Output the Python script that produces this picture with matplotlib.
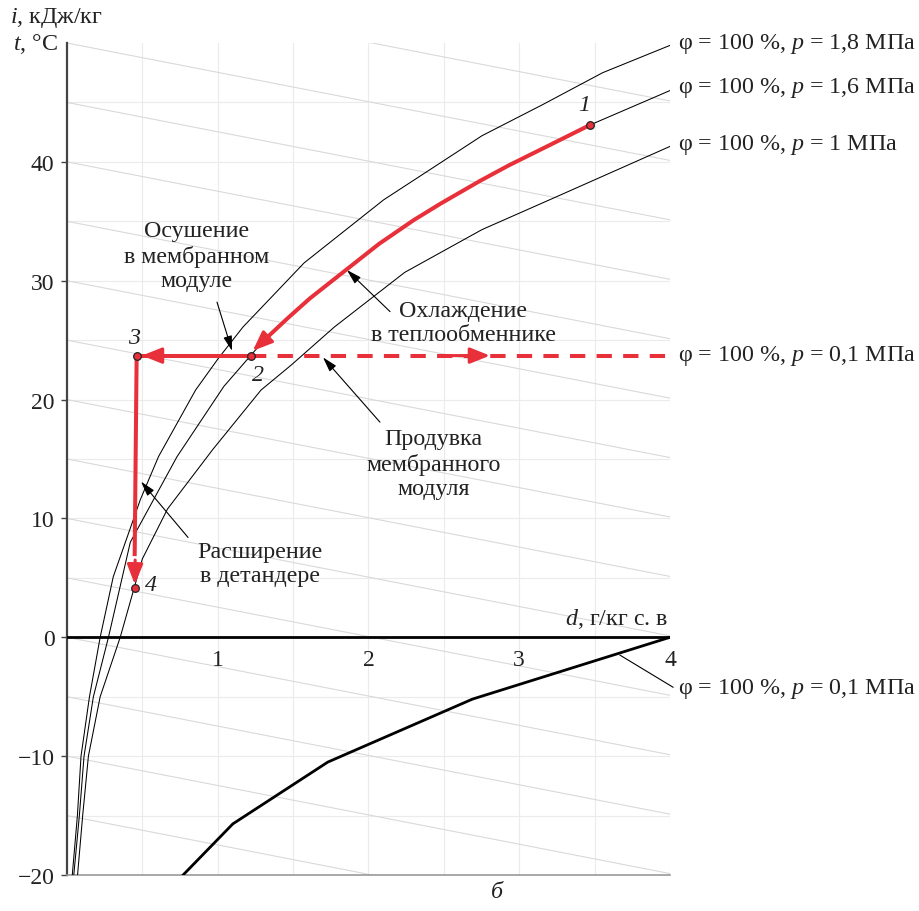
import matplotlib
matplotlib.use("Agg")
import matplotlib.pyplot as plt

plt.rcParams['font.family'] = ['Liberation Serif', 'DejaVu Serif']
plt.rcParams['mathtext.fontset'] = 'custom'
plt.rcParams['mathtext.rm'] = 'Liberation Serif'
plt.rcParams['mathtext.it'] = 'Liberation Serif:italic'

# ---------------- data ----------------
# saturation curves phi = 100 % : moisture content d (g/kg) vs temperature t (C)
sat18_d = [0.035, 0.069, 0.093, 0.149, 0.22, 0.307, 0.487, 0.607, 0.853, 1.0, 1.167,
           1.573, 2.1, 2.753, 3.153, 3.553, 4.0]
sat18_t = [-20, -15, -10, -5, 0, 5.1, 11.6, 15.2, 20.8, 23.4, 26.1,
           31.5, 36.8, 42.2, 44.8, 47.5, 49.8]
sat16_d = [0.045, 0.082, 0.113, 0.175, 0.275, 0.42, 0.73, 1.04, 1.218, 1.30, 1.46, 1.61,
           1.85, 2.07, 2.30, 2.48, 2.74, 2.93, 3.2, 3.469, 4.0]
sat16_t = [-20, -15, -10, -5, 0, 8.0, 15.2, 21.1, 23.7, 24.9, 26.8, 28.5,
           30.9, 33.1, 35.1, 36.5, 38.4, 39.7, 41.4, 43.1, 46.0]
sat10_d = [0.07, 0.104, 0.142, 0.22, 0.353, 0.5, 0.667, 0.967, 1.287, 1.487, 1.773,
           2.24, 2.753, 3.2, 4.0]
sat10_t = [-20, -15, -10, -5, 0, 6.6, 10.8, 15.8, 20.8, 22.9, 26.1,
           30.7, 34.3, 36.8, 41.3]
sat01_d = [0.77, 1.10, 1.73, 2.69, 4.0]
sat01_t = [-20, -15.7, -10.5, -5.2, 0]

# process 1 -> 2 (cooling in heat exchanger, along the 1.6 MPa curve)
proc12_d = [3.469, 3.2, 2.93, 2.74, 2.48, 2.30, 2.07, 1.85, 1.61, 1.46, 1.30]
proc12_t = [43.1, 41.4, 39.7, 38.4, 36.5, 35.1, 33.1, 30.9, 28.5, 26.8, 24.9]

# state points
point_labels = ['1', '2', '3', '4']
point_d = [3.469, 1.218, 0.462, 0.449]
point_t = [43.1, 23.7, 23.7, 4.12]

# enthalpy lines (kJ/kg) and their drop in t per 1 g/kg
enthalpy_levels = list(range(-20, 65, 5))
enthalpy_drop = 2.47

x_ticks = [1, 2, 3, 4]
y_ticks = [-20, -10, 0, 10, 20, 30, 40]
y_ticklabels = ['\u221220', '\u221210', '0', '10', '20', '30', '40']

RED = '#e8303b'
TXT = '#222222'
FS = 17.3

fig = plt.figure(figsize=(9.2, 9.12), dpi=100)
ax = fig.add_axes([67 / 920, 36 / 912, 603 / 920, 832 / 912])
ax.set_xlim(0, 4)
ax.set_ylim(-20, 50)

# grid
for gx in [0.5, 1, 1.5, 2, 2.5, 3, 3.5, 4]:
    ax.plot([gx, gx], [-20, 50], color='#ebebeb', lw=0.8, zorder=0)
for gy in [-15, -10, -5, 5, 10, 15, 20, 25, 30, 35, 40, 45]:
    ax.plot([0, 4], [gy, gy], color='#ebebeb', lw=0.8, zorder=0)

# enthalpy lines
for i in enthalpy_levels:
    ax.plot([0, 4], [i, i - 4 * enthalpy_drop], color='#d9d9d9', lw=0.8, zorder=1)

# axes styling
for s in ['top', 'right']:
    ax.spines[s].set_visible(False)
ax.spines['left'].set_color('#444444')
ax.spines['left'].set_linewidth(1.6)
ax.spines['bottom'].set_color('#999999')
ax.spines['bottom'].set_linewidth(1.2)
ax.set_xticks([])
ax.set_yticks(y_ticks)
ax.set_yticklabels(y_ticklabels, fontsize=17, color=TXT)
ax.tick_params(axis='y', length=4, width=1, color='#444444', pad=5)

# t = 0 axis
ax.plot([0, 4], [0, 0], color='black', lw=2.0, zorder=3)
for xt in x_ticks:
    ax.text(xt, -1.9, str(xt), ha='center', va='center', fontsize=17, color=TXT)

# saturation curves
ax.plot(sat18_d, sat18_t, color='black', lw=0.75, zorder=3)
ax.plot(sat16_d, sat16_t, color='black', lw=0.75, zorder=3)
ax.plot(sat10_d, sat10_t, color='black', lw=0.75, zorder=3)
ax.plot(sat01_d, sat01_t, color='black', lw=2.0, zorder=3, solid_joinstyle='round')

# right-side labels
lab_x = 4.055
for ty, txt in [(50.0, '\u03c6 = 100 %, $p$ = 1,8 МПа'),
                (46.3, '\u03c6 = 100 %, $p$ = 1,6 МПа'),
                (41.5, '\u03c6 = 100 %, $p$ = 1 МПа'),
                (23.75, '\u03c6 = 100 %, $p$ = 0,1 МПа'),
                (-4.25, '\u03c6 = 100 %, $p$ = 0,1 МПа')]:
    ax.text(lab_x, ty, txt, ha='left', va='center', fontsize=FS, color=TXT, clip_on=False)
ax.plot([3.668, 4.02], [-1.5, -4.2], color='black', lw=0.8, clip_on=False, zorder=3)

# axis titles
fig.text(10 / 920, 1 - 18 / 912, '$i$, кДж/кг', ha='left', va='center', fontsize=FS, color=TXT)
fig.text(58 / 920, 1 - 44 / 912, '$t$, °C', ha='right', va='center', fontsize=FS, color=TXT)
ax.text(3.985, 1.62, '$d$, г/кг с. в', ha='right', va='center', fontsize=FS, color=TXT)
fig.text(497 / 920, 1 - 893 / 912, 'б', ha='center', va='center', fontsize=FS,
         style='italic', color=TXT)

# ---------------- process lines ----------------
head = '-|>,head_length=0.6,head_width=0.24'
arrow_kw = dict(arrowstyle=head, mutation_scale=20, lw=2.2, color=RED, shrinkA=0, shrinkB=0)
# 1 -> 2
ax.plot(proc12_d, proc12_t, color=RED, lw=2.9, zorder=5, solid_capstyle='butt',
        solid_joinstyle='round')
ax.annotate('', xy=(1.232, 24.1), xytext=(proc12_d[-1], proc12_t[-1]),
            arrowprops=arrow_kw, zorder=5)
# 2 -> 3
ax.plot([point_d[2], point_d[1]], [point_t[2], point_t[1]], color=RED, lw=2.9, zorder=5)
ax.annotate('', xy=(0.497, point_t[2]), xytext=(0.62, point_t[2]),
            arrowprops=arrow_kw, zorder=5)
# 3 -> 4
ax.plot([point_d[2], point_d[3]], [point_t[2], 7.0], color=RED, lw=2.9, zorder=5)
ax.annotate('', xy=(0.4495, 4.45), xytext=(0.452, 6.5), arrowprops=arrow_kw, zorder=5)
# purge: dashed 2 -> right edge
ax.plot([point_d[1], 4.0], [point_t[1], point_t[1]], color=RED, lw=2.9, zorder=4,
        dashes=(3.8, 2.8))
ax.annotate('', xy=(2.806, point_t[1]), xytext=(2.47, point_t[1]),
            arrowprops=arrow_kw, zorder=5)

# state points
ax.plot(point_d, point_t, 'o', ms=5.5, mfc=RED, mec='#222222', mew=0.9, zorder=7)
lab_off = [(-0.04, 1.7), (0.05, -1.6), (-0.02, 1.5), (0.11, 0.35)]
for lab, dd, tt, (ox, oy) in zip(point_labels, point_d, point_t, lab_off):
    ax.text(dd + ox, tt + oy, lab, ha='center', va='center', fontsize=FS,
            style='italic', color=TXT, zorder=8)

# ---------------- annotations ----------------
def note(txt, xy, xytext_line, text_pos):
    ax.annotate('', xy=xy, xytext=xytext_line,
                arrowprops=dict(arrowstyle='-|>,head_length=0.45,head_width=0.13',
                                mutation_scale=20, lw=0.8, color='black',
                                shrinkA=0, shrinkB=0), zorder=6)
    ax.text(text_pos[0], text_pos[1], txt, ha='center', va='center', fontsize=FS,
            color=TXT, linespacing=1.2, zorder=6)

note('Осушение\nв мембранном\nмодуле', (1.095, 24.1), (0.995, 28.2), (0.862, 32.1))
note('Охлаждение\nв теплообменнике', (1.857, 30.9), (2.143, 27.4), (2.627, 26.5))
note('Продувка\nмембранного\nмодуля', (1.698, 23.55), (2.076, 18.1), (2.431, 14.6))
note('Расширение\nв детандере', (0.491, 13.1), (0.803, 8.4), (1.28, 6.2))

fig.savefig('out.png', dpi=100, facecolor='white')
